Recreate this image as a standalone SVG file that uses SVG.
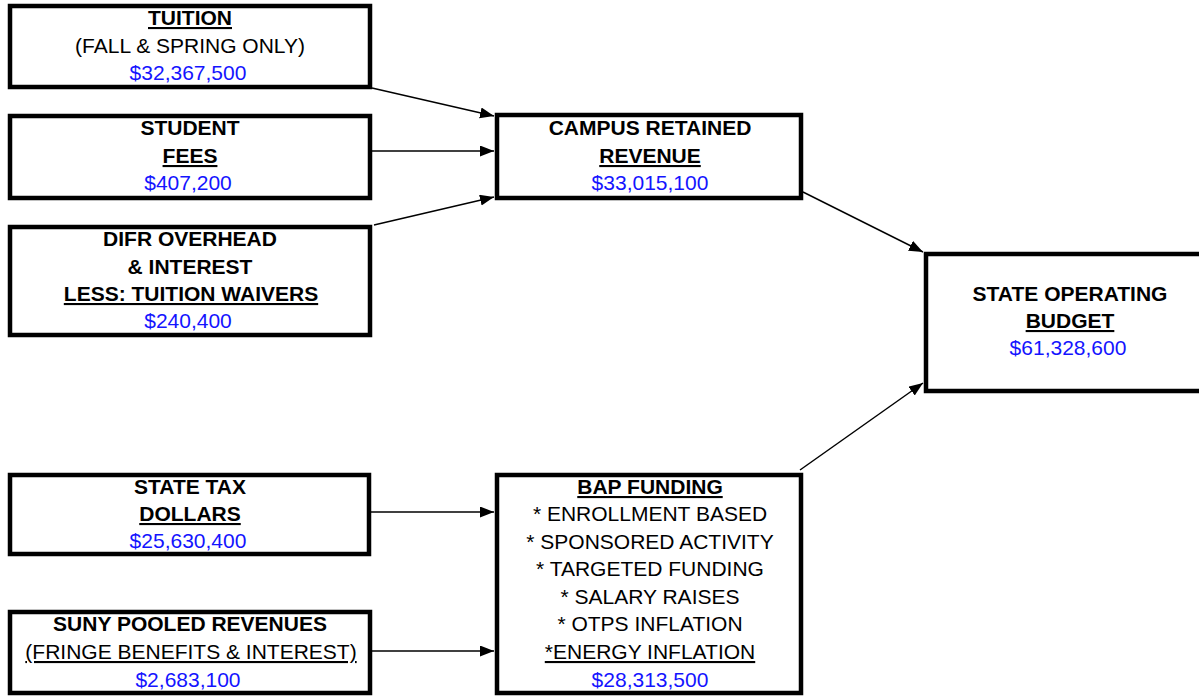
<svg xmlns="http://www.w3.org/2000/svg" width="1199" height="696" viewBox="0 0 1199 696">
<style>
.box{fill:#fff;stroke:#000;stroke-width:4.5}
text{font-family:"Liberation Sans",Arial,sans-serif;font-size:21px;text-anchor:middle;fill:#000}
.b{font-weight:bold}
.u{text-decoration:underline}
.v{fill:#1414ff}
.c{stroke:#000;stroke-width:1.5;fill:none;marker-end:url(#ah)}
</style>
<defs>
<marker id="ah" markerUnits="userSpaceOnUse" markerWidth="15" markerHeight="12" refX="14" refY="5.5" orient="auto">
<path d="M0,0 L14,5.5 L0,11 z" fill="#000"/>
</marker>
</defs>
<rect width="1199" height="696" fill="#fff"/>
<g id="connectors">
<line class="c" x1="372" y1="88" x2="494" y2="116"/>
<line class="c" x1="372" y1="151" x2="494" y2="151"/>
<line class="c" x1="374" y1="225" x2="494" y2="197"/>
<line class="c" x1="803" y1="192" x2="923" y2="252"/>
<line class="c" x1="800" y1="470" x2="923" y2="383"/>
<line class="c" x1="367" y1="512" x2="494" y2="512"/>
<line class="c" x1="371" y1="651" x2="494" y2="651"/>
</g>
<g id="tuition">
<rect class="box" x="10" y="6" width="360" height="81"/>
<text x="190" y="25" class="b u">TUITION</text>
<text x="190" y="53">(FALL &amp; SPRING ONLY)</text>
<text x="188" y="80" class="v">$32,367,500</text>
</g>
<g id="student-fees">
<rect class="box" x="10" y="116" width="360" height="82"/>
<text x="190" y="135" class="b">STUDENT</text>
<text x="190" y="163" class="b u">FEES</text>
<text x="188" y="190" class="v">$407,200</text>
</g>
<g id="difr">
<rect class="box" x="10" y="227" width="360" height="108"/>
<text x="190" y="246" class="b">DIFR OVERHEAD</text>
<text x="190" y="274" class="b">&amp; INTEREST</text>
<text x="191" y="301" class="b u">LESS: TUITION WAIVERS</text>
<text x="188" y="328" class="v">$240,400</text>
</g>
<g id="campus-retained">
<rect class="box" x="497" y="115" width="304" height="83"/>
<text x="650" y="135" class="b">CAMPUS RETAINED</text>
<text x="650" y="163" class="b u">REVENUE</text>
<text x="650" y="190" class="v">$33,015,100</text>
</g>
<g id="state-operating">
<rect class="box" x="926" y="254" width="300" height="137"/>
<text x="1070" y="301" class="b">STATE OPERATING</text>
<text x="1070" y="328" class="b u">BUDGET</text>
<text x="1068" y="355" class="v">$61,328,600</text>
</g>
<g id="state-tax">
<rect class="box" x="10" y="475" width="359" height="79"/>
<text x="190" y="494" class="b">STATE TAX</text>
<text x="190" y="521" class="b u">DOLLARS</text>
<text x="188" y="548" class="v">$25,630,400</text>
</g>
<g id="suny-pooled">
<rect class="box" x="10" y="612" width="360" height="81"/>
<text x="190" y="631" class="b">SUNY POOLED REVENUES</text>
<text x="191" y="659" class="u">(FRINGE BENEFITS &amp; INTEREST)</text>
<text x="188" y="687" class="v">$2,683,100</text>
</g>
<g id="bap-funding">
<rect class="box" x="497" y="475" width="304" height="218"/>
<text x="650" y="494" class="b u">BAP FUNDING</text>
<text x="650" y="521">* ENROLLMENT BASED</text>
<text x="650" y="549">* SPONSORED ACTIVITY</text>
<text x="650" y="576">* TARGETED FUNDING</text>
<text x="650" y="604">* SALARY RAISES</text>
<text x="650" y="631">* OTPS INFLATION</text>
<text x="650" y="659" class="u">*ENERGY INFLATION</text>
<text x="650" y="687" class="v">$28,313,500</text>
</g>
</svg>
